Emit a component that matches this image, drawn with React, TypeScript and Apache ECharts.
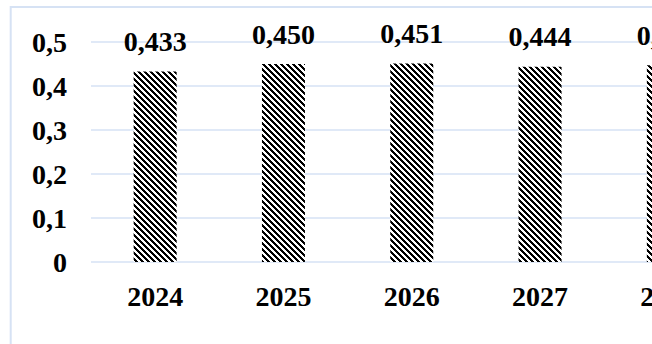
import React, { useEffect, useRef } from "react";
import * as echarts from "echarts";

const years = ["2024", "2025", "2026", "2027", "2028"];
const values = [0.433, 0.45, 0.451, 0.444, 0.447];

const AXIS_MIN = 0;
const AXIS_MAX = 0.5;
const AXIS_STEP = 0.1;

const FONT = "'Liberation Serif', 'Times New Roman', serif";
const GRID_BLUE = "#d6e2f4";

const comma = (v: number, digits: number) =>
  v === 0 ? "0" : v.toFixed(digits).replace(".", ",");

// small tile with "\" diagonal stripes used as the bar fill
function makeStripeTile(): HTMLCanvasElement {
  const size = 6;
  const c = document.createElement("canvas");
  c.width = size;
  c.height = size;
  const ctx = c.getContext("2d")!;
  ctx.fillStyle = "#ffffff";
  ctx.fillRect(0, 0, size, size);
  ctx.fillStyle = "#000000";
  for (let y = 0; y < size; y++) {
    for (let x = 0; x < size; x++) {
      if ((((x - y) % size) + size) % size < 3) ctx.fillRect(x, y, 1, 1);
    }
  }
  return c;
}

export default function App() {
  const ref = useRef<HTMLDivElement>(null);

  useEffect(() => {
    if (!ref.current) return;
    const chart = echarts.init(ref.current, null, { renderer: "svg" });
    const tile = makeStripeTile();

    chart.setOption({
      animation: false,
      backgroundColor: "#ffffff",
      grid: { left: 91, top: 42, bottom: 98, right: 47.5, containLabel: false },
      graphic: [
        {
          type: "rect",
          shape: { x: 10.7, y: 7, width: 1200, height: 600 },
          style: { fill: "none", stroke: GRID_BLUE, lineWidth: 2 },
          silent: true,
          z: -1,
        },
      ],
      xAxis: {
        type: "category",
        data: years,
        axisLine: { show: false },
        axisTick: { show: false },
        axisLabel: {
          margin: 20,
          color: "#000",
          fontFamily: FONT,
          fontWeight: "bold",
          fontSize: 28,
        },
      },
      yAxis: {
        type: "value",
        min: AXIS_MIN,
        max: AXIS_MAX,
        interval: AXIS_STEP,
        axisLine: { show: false },
        axisTick: { show: false },
        splitLine: { lineStyle: { color: GRID_BLUE, width: 1.5 } },
        axisLabel: {
          margin: 24,
          color: "#000",
          fontFamily: FONT,
          fontWeight: "bold",
          fontSize: 28,
          formatter: (v: number) => comma(v, 1),
        },
      },
      series: [
        {
          type: "bar",
          data: values,
          barWidth: 43,
          itemStyle: {
            color: { image: tile, repeat: "repeat" },
          },
          label: {
            show: true,
            position: "top",
            distance: 16,
            color: "#000",
            fontFamily: FONT,
            fontWeight: "bold",
            fontSize: 28,
            formatter: (p: any) => comma(p.value, 3),
          },
        },
      ],
    });

    return () => chart.dispose();
  }, []);

  return (
    <div
      style={{
        position: "absolute",
        left: 0,
        top: 0,
        width: 652,
        height: 344,
        overflow: "hidden",
        background: "#fff",
      }}
    >
      <div ref={ref} style={{ width: 780, height: 360 }} />
    </div>
  );
}
